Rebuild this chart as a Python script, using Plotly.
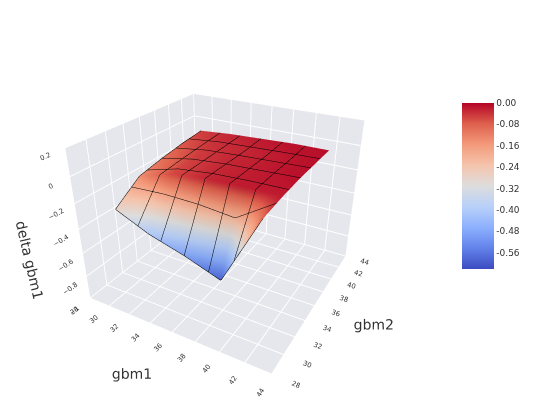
import plotly.graph_objects as go

gbm1 = [30, 33, 36, 39, 42]
gbm2 = [30, 33, 36, 39, 42]
# rows = gbm2, cols = gbm1
delta = [
    [-0.28, -0.40, -0.48, -0.58, -0.04],
    [-0.14, -0.06, -0.03, -0.02, -0.02],
    [-0.10, -0.05, -0.03, -0.02, -0.01],
    [-0.07, -0.04, -0.03, -0.02, -0.01],
    [-0.05, -0.03, -0.02, -0.01, -0.01],
]

coolwarm = [
    [0.0, "#3b4cc0"], [0.125, "#6282ea"], [0.25, "#8db0fe"], [0.375, "#b8d0f9"],
    [0.5, "#dddddd"], [0.625, "#f5c4ac"], [0.75, "#f49a7b"], [0.875, "#de604d"],
    [1.0, "#b40426"],
]

fig = go.Figure(go.Surface(
    x=gbm1, y=gbm2, z=delta,
    colorscale=coolwarm, cmin=-0.62, cmax=0.0,
    lighting=dict(ambient=0.9, diffuse=0.2, specular=0.0),
    contours=dict(x=dict(show=True, color="black", width=1),
                  y=dict(show=True, color="black", width=1)),
    colorbar=dict(len=0.46, thickness=32, x=0.855, y=0.56, xanchor="left",
                  tickvals=[0, -0.08, -0.16, -0.24, -0.32, -0.40, -0.48, -0.56],
                  ticktext=["0.00", "-0.08", "-0.16", "-0.24", "-0.32", "-0.40", "-0.48", "-0.56"],
                  tickfont=dict(size=9), outlinewidth=0),
))

axis = dict(backgroundcolor="#e6e7ec", gridcolor="white", showbackground=True,
            tickfont=dict(size=9), zeroline=False, title_font=dict(size=11))
fig.update_layout(
    width=559, height=404,
    margin=dict(l=0, r=40, t=0, b=0),
    paper_bgcolor="white",
    font=dict(family="DejaVu Sans", color="#333"),
    scene=dict(
        xaxis=dict(axis, title="gbm1", range=[28, 44], dtick=2),
        yaxis=dict(axis, title="gbm2", range=[28, 44], dtick=2),
        zaxis=dict(axis, title="delta gbm1", range=[-1.0, 0.2], dtick=0.2),
        camera=dict(eye=dict(x=1.05, y=-1.85, z=1.15)),
        domain=dict(x=[0, 0.84], y=[0, 1]),
        aspectmode="manual", aspectratio=dict(x=1, y=1, z=0.8),
    ),
)

fig.write_html("out.html")
